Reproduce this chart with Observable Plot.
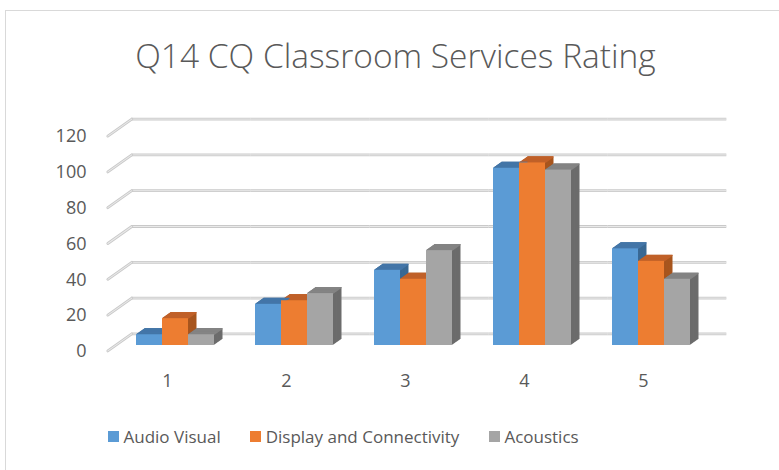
<!DOCTYPE html>
<html><head><meta charset="utf-8">
<script src="https://cdn.jsdelivr.net/npm/d3@7"></script>
<script src="https://cdn.jsdelivr.net/npm/@observablehq/plot@0.6"></script>
<style>
body{margin:0;background:#fff;}
#wrap{position:relative;width:779px;height:470px;overflow:hidden;font-family:"Open Sans",sans-serif;color:#595959;background:#fff;}
#border{position:absolute;left:5px;top:10px;width:820px;height:520px;border-left:1.5px solid #d9d9d9;border-top:1.5px solid #d9d9d9;}
#title{position:absolute;left:0;width:791px;top:38.5px;text-align:center;font-size:33.5px;font-weight:300;line-height:1;white-space:nowrap;}
#chart{position:absolute;left:0;top:0;}
#legend{position:absolute;left:108px;top:428px;display:flex;gap:29.5px;font-size:17px;line-height:17px;white-space:nowrap;}
.item{display:flex;align-items:center;}
.sw{width:11px;height:11px;margin-right:4.5px;}
</style></head><body>
<div id="wrap"><div id="border"></div><div id="chart"></div><div id="title">Q14 CQ Classroom Services Rating</div><div id="legend"></div></div>
<script>
const categories = ["1", "2", "3", "4", "5"];
const seriesNames = ["Audio Visual", "Display and Connectivity", "Acoustics"];
const audioVisual = [6, 23, 42, 99, 54];
const displayConnectivity = [15, 25, 37, 102, 47];
const acoustics = [6, 29, 53, 98, 37];
const yTicks = [0, 20, 40, 60, 80, 100, 120];
const frontColors = ["#5b9bd5", "#ed7d31", "#a5a5a5"];
const topColors = ["#4476a8", "#c0612a", "#848484"];
const sideColors = ["#3a6994", "#a8561f", "#6c6c6c"];

const seriesValues = [audioVisual, displayConnectivity, acoustics];
const data = categories.flatMap((category, i) =>
  seriesNames.map((series, j) => ({category, series, j, value: seriesValues[j][i]})));

const depth = {x: 8.5, y: -6};
const wall = {x: 16.3, y: -11.6};
const front = {x: -7.7, y: 5.4};
const steps = d3.range(1, 15).map(k => k / 14);
const lineShape = {draw(ctx, l) { ctx.moveTo(0, 0); ctx.lineTo(0, -l); }};
const diag = yTicks.map(t => ({t, category: categories[0]}));
const diagLen = Math.hypot(wall.x - front.x, wall.y - front.y);
const diagRot = Math.atan2(wall.x - front.x, -(wall.y - front.y)) * 180 / Math.PI;
const gridStyles = [{stroke: "#c9c9c9", strokeWidth: 2.8}, {stroke: "#e9e9e9", strokeWidth: 1}];

const chart = Plot.plot({
  width: 779,
  height: 470,
  marginTop: 130.2,
  marginBottom: 125,
  marginLeft: 115,
  marginRight: 69,
  style: {fontFamily: "Open Sans", fontSize: "18px", color: "#595959", background: "transparent", overflow: "visible"},
  fx: {domain: categories, padding: 0, label: null},
  x: {domain: seriesNames, paddingInner: 0, paddingOuter: 0.76, axis: null},
  y: {domain: [0, 120], label: null},
  color: {type: "identity"},
  marks: [
    ...gridStyles.map(s => Plot.ruleY(yTicks, {dx: wall.x, dy: wall.y, ...s})),
    ...gridStyles.map(s => Plot.vector(diag, {fx: "category", y: "t", frameAnchor: "left", dx: front.x, dy: front.y,
      anchor: "start", length: diagLen, rotate: diagRot, shape: lineShape, ...s})),
    ...steps.slice().reverse().map(f => Plot.barY(data, {fx: "category", x: "series", y: "value",
      fill: d => sideColors[d.j], dx: depth.x * f, dy: depth.y * f})),
    ...steps.map(f => Plot.tickY(data, {fx: "category", x: "series", y: "value",
      stroke: d => topColors[d.j], strokeWidth: 1.2, dx: depth.x * f, dy: depth.y * f})),
    Plot.barY(data, {fx: "category", x: "series", y: "value", fill: d => frontColors[d.j]}),
    Plot.axisY(yTicks, {anchor: "left", tickSize: 0, tickPadding: 21.3, dx: front.x, dy: front.y + 0.6, label: null, fontSize: 18}),
    Plot.axisFx({anchor: "bottom", tickSize: 0, tickPadding: 29, dx: front.x, label: null, fontSize: 18})
  ]
});
document.getElementById("chart").appendChild(chart);

const legend = d3.select("#legend");
seriesNames.forEach((name, j) => {
  const item = legend.append("div").attr("class", "item");
  item.append("div").attr("class", "sw").style("background", frontColors[j]);
  item.append("span").text(name);
});
</script>
</body></html>
